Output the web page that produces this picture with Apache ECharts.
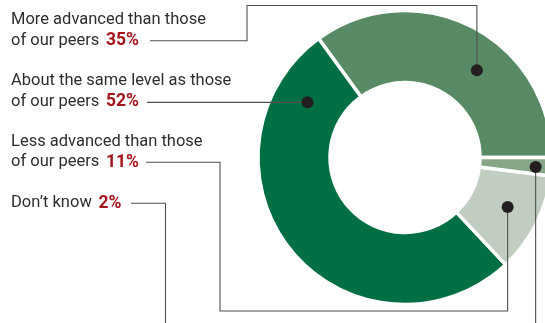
<!DOCTYPE html>
<html><head><meta charset="utf-8">
<script src="https://cdn.jsdelivr.net/npm/echarts@6/dist/echarts.min.js"></script>
<style>html,body{margin:0;padding:0;background:#fff}#c{width:545px;height:323px}</style>
</head><body><div id="c"></div>
<script>
const categories = ['More advanced than those\nof our peers', 'About the same level as those\nof our peers', 'Less advanced than those\nof our peers', 'Don\u2019t know'];
const values = [35, 52, 11, 2];
const pctLabels = ['35%', '52%', '11%', '2%'];
const colors = ['#578a65', '#006f44', '#c2cdc1', '#87a688'];

// layout constants
const cx = 405, cy = 157.5, rIn = 75, rOut = 147;
const FONT = 'Roboto, "Liberation Sans", sans-serif';
const labelX = 11;
const labelLastY = [40.7, 101.7, 162.3, 203.3];   // middle of last text line
const lineH = 20.8;
const leaderStartX = [150, 147, 146, 131];
// dot anchors on the ring (angle deg counter-clockwise from east, radius px)
const dotAngle = [50.5, 150.5, -25.8, -4.2];
const dotRadius = [113, 112, 114, 131];

const chart = echarts.init(document.getElementById('c'), null, {renderer: 'canvas'});

const dots = dotAngle.map((a, i) => {
  const t = a * Math.PI / 180;
  return [cx + dotRadius[i] * Math.cos(t), cy - dotRadius[i] * Math.sin(t)];
});

const leaders = [
  [[leaderStartX[0], labelLastY[0]], [247, labelLastY[0]], [247, 5.5], [dots[0][0], 5.5], dots[0]],
  [[leaderStartX[1], dots[1][1]], dots[1]],
  [[leaderStartX[2], labelLastY[2]], [220, labelLastY[2]], [220, 311], [dots[2][0], 311], dots[2]],
  [[leaderStartX[3], labelLastY[3]], [165.5, labelLastY[3]], [165.5, 330]],
  [dots[3], [dots[3][0], 330]]
];

const graphics = [];
leaders.forEach(pts => graphics.push({
  type: 'polyline', shape: {points: pts}, z: 10,
  style: {stroke: '#505050', lineWidth: 1.1, fill: null}
}));
dots.forEach(d => graphics.push({
  type: 'circle', shape: {cx: d[0], cy: d[1], r: 6}, z: 11,
  style: {fill: '#231f20'}
}));
categories.forEach((c, i) => {
  const lines = c.split('\n');
  lines.forEach((ln, j) => {
    const y = labelLastY[i] - (lines.length - 1 - j) * lineH;
    const last = j === lines.length - 1;
    graphics.push({
      type: 'text', x: labelX, y: y, z: 12,
      style: {
        text: last ? '{t|' + ln + '}  {p|' + pctLabels[i] + '}' : '{t|' + ln + '}',
        verticalAlign: 'middle', align: 'left',
        rich: {
          t: {fontFamily: FONT, fontSize: 16.5, fill: '#2e2e2e', color: '#2e2e2e'},
          p: {fontFamily: FONT, fontSize: 17.5, fontWeight: 'bold', fill: '#a3151c', color: '#a3151c'}
        }
      }
    });
  });
});

chart.setOption({
  animation: false,
  backgroundColor: '#ffffff',
  series: [{
    type: 'pie',
    center: [cx, cy],
    radius: [rIn, rOut],
    startAngle: 0,
    clockwise: false,
    label: {show: false},
    labelLine: {show: false},
    emphasis: {disabled: true},
    itemStyle: {borderColor: '#ffffff', borderWidth: 3.5},
    data: categories.map((c, i) => ({name: c, value: values[i], itemStyle: {color: colors[i]}}))
  }],
  graphic: graphics
});
</script>
</body></html>
